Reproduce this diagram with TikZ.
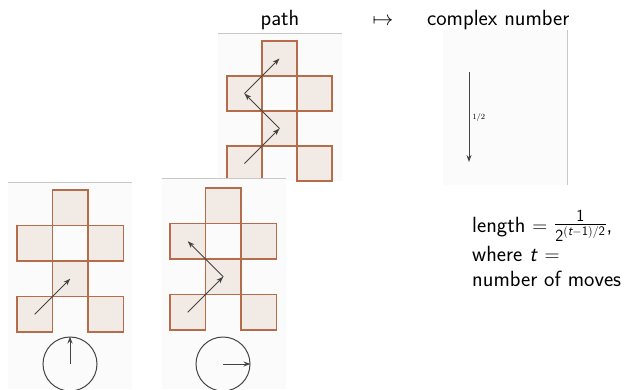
\documentclass[tikz,border=0pt]{standalone}
\usepackage{amsmath}
\usetikzlibrary{arrows.meta}
\DeclareMathSizes{22}{22}{17}{13}
\definecolor{cellfill}{RGB}{242,234,228}
\definecolor{celldraw}{RGB}{180,108,74}
\definecolor{mvcol}{RGB}{68,68,68}
\definecolor{rulecol}{RGB}{200,200,200}
\definecolor{panelcol}{RGB}{251,251,251}
\tikzset{
  cellA/.style={draw=celldraw, fill=cellfill, line width=1.2pt, minimum size=35pt, inner sep=0pt, outer sep=0pt},
  cellB/.style={cellA, minimum size=35.5pt},
  mv/.style={draw=mvcol, line width=1pt, -{Stealth[length=7pt,width=5pt]}},
  rulel/.style={draw=rulecol, line width=1pt},
  panel/.style={fill=panelcol, draw=none},
  dial/.style={circle, draw=mvcol, line width=1pt, minimum size=54pt, inner sep=0pt},
  lbl/.style={font=\sffamily\fontsize{22}{26}\selectfont, inner sep=0pt},
}
\begin{document}
\begin{tikzpicture}[x=1pt,y=-1pt]
\useasboundingbox (0,0) rectangle (640,389);
% titles
\node[lbl, anchor=base] (tpath) at (280,25) {path};
\node[lbl, anchor=base] (tmaps) at (383,25) {$\mapsto$};
\node[lbl, anchor=base west] (tcomp) at (427,25) {complex number};
% top panel
\fill[panel] (218,33) rectangle (342,181);
\draw[rulel] (218,33) -- (342,33);
\node[cellA] (a10) at (279.5,58.5) {};
\node[cellA] (a01) at (244.5,93.5) {};
\node[cellA] (a21) at (314.5,93.5) {};
\node[cellA] (a12) at (279.5,128.5) {};
\node[cellA] (a03) at (244.5,163.5) {};
\node[cellA] (a23) at (314.5,163.5) {};
\draw[mv] (a03.center) -- (a12.center);
\draw[mv] (a12.center) -- (a01.center);
\draw[mv] (a01.center) -- (a10.center);
% bottom-middle panel (covers part of top one)
\fill[panel] (162,178) rectangle (286,389);
\draw[rulel] (162,178) -- (286,178);
\node[cellB] (c10) at (223.25,205.75) {};
\node[cellB] (c01) at (187.75,241.25) {};
\node[cellB] (c21) at (258.75,241.25) {};
\node[cellB] (c12) at (223.25,276.75) {};
\node[cellB] (c03) at (187.75,312.25) {};
\node[cellB] (c23) at (258.75,312.25) {};
\draw[mv] (c03.center) -- (c12.center);
\draw[mv] (c12.center) -- (c01.center);
\node[dial] (cd) at (223,364) {};
\draw[mv] (cd.center) -- (cd.east);
% bottom-left panel
\fill[panel] (8,182) rectangle (132,389);
\draw[rulel] (8,182) -- (132,182);
\node[cellB] (b10) at (70.25,207.75) {};
\node[cellB] (b01) at (34.75,243.25) {};
\node[cellB] (b21) at (105.75,243.25) {};
\node[cellB] (b12) at (70.25,278.75) {};
\node[cellB] (b03) at (34.75,314.25) {};
\node[cellB] (b23) at (105.75,314.25) {};
\draw[mv] (b03.center) -- (b12.center);
\node[dial] (bd) at (70,364) {};
\draw[mv] (bd.center) -- (bd.north);
% right panel
\fill[panel] (443,30) rectangle (567,185);
\draw[rulel] (567,30) -- (567,185);
\coordinate (zs) at (469,72);
\coordinate (ze) at (469,162);
\draw[mv, line width=0.9pt] (zs) -- node[right, font=\fontsize{8}{9}\selectfont, inner sep=3pt] (zl) {$1/2$} (ze);
% explanation
\node[lbl, anchor=base west] (l1) at (472,232) {length $=$ \raisebox{2pt}{$\frac{\text{\sffamily 1}}{\text{\sffamily 2}^{(\text{\sffamily\itshape t}-\text{\sffamily 1})/\text{\sffamily 2}}}$},};
\node[lbl, anchor=base west] (l2) at (472,261) {where \textit{t} $=$};
\node[lbl, anchor=base west] (l3) at (472,286) {number of moves};
\end{tikzpicture}
\end{document}
